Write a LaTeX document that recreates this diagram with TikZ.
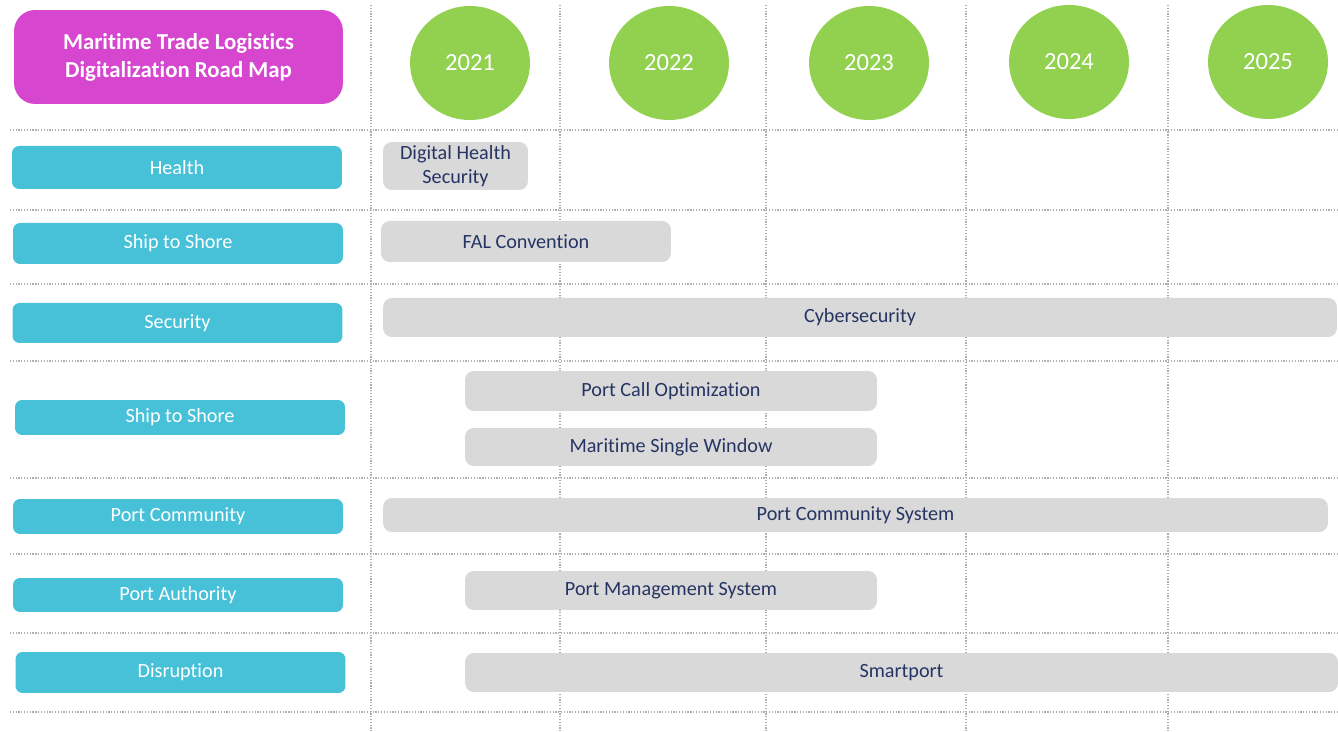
\documentclass[tikz,border=0pt]{standalone}
\usepackage{fontspec}
\setmainfont{Carlito}[Ligatures=CommonOff]
\usetikzlibrary{shapes.geometric}
\definecolor{mapmagenta}{RGB}{214,70,206}
\definecolor{mapcyan}{RGB}{70,193,216}
\definecolor{mapgreen}{RGB}{146,208,80}
\definecolor{mapgray}{RGB}{217,217,217}
\definecolor{mapnavy}{RGB}{38,52,99}
\definecolor{mapgrid}{RGB}{175,175,175}
\tikzset{
  titlebox/.style={fill=mapmagenta, rounded corners=12pt, text=white, font=\bfseries\fontsize{13}{16}\selectfont,
    align=center, minimum width=6.58cm, minimum height=1.88cm, inner sep=0pt},
  yearbubble/.style={ellipse, fill=mapgreen, text=white, font=\fontsize{14}{16}\selectfont,
    minimum width=2.4cm, minimum height=2.28cm, inner sep=0pt},
  rowlabel/.style={fill=mapcyan, rounded corners=4pt, text=white, font=\fontsize{11.5}{13}\selectfont,
    minimum width=6.6cm, minimum height=#1, inner sep=0pt},
  taskbar/.style={fill=mapgray, rounded corners=5pt, text=mapnavy, font=\fontsize{11.5}{13.5}\selectfont,
    align=center, inner sep=0pt},
  gridline/.style={mapgrid, line width=0.6pt, dash pattern=on 0.7pt off 0.9pt}
}
\begin{document}
\begin{tikzpicture}[x=0.02cm,y=-0.02cm]
        \useasboundingbox (0,0) rectangle (1338,732);
        \foreach \gx in {371,560,766,966,1168}
          \draw[gridline] (\gx,5) -- (\gx,732);
        \foreach \gy in {130,210,284,361,478,554,633,712}
          \draw[gridline] (10,\gy) -- (1338,\gy);
        \node[titlebox] at (178.5,57) (title) {Maritime Trade Logistics\\Digitalization Road Map};
        \node[yearbubble] at (470,63)  (y2021) {2021};
        \node[yearbubble] at (669,63)  (y2022) {2022};
        \node[yearbubble] at (869,63)  (y2023) {2023};
        \node[yearbubble] at (1069,62) (y2024) {2024};
        \node[yearbubble] at (1268,62) (y2025) {2025};
        \node[rowlabel=0.86cm] at (177,167.5) (health) {Health};
        \node[rowlabel=0.82cm] at (178,243.5) (shore) {Ship to Shore};
        \node[rowlabel=0.8cm]  at (177.5,323) (security) {Security};
        \node[rowlabel=0.7cm]  at (180,417.5) (shoretwo) {Ship to Shore};
        \node[rowlabel=0.7cm]  at (178,516.5) (community) {Port Community};
        \node[rowlabel=0.68cm] at (178,595)   (authority) {Port Authority};
        \node[rowlabel=0.82cm] at (180.5,672.5) (disruption) {Disruption};
        \node[taskbar, minimum width=2.9cm, minimum height=0.96cm] at (455.5,166) (dhs) {Digital Health\\Security};
        \node[taskbar, minimum width=5.8cm, minimum height=0.82cm] at (526,241.5) (fal) {FAL Convention};
        \node[taskbar, minimum width=19.08cm, minimum height=0.78cm] at (860,317.5) (cyber) {Cybersecurity};
        \node[taskbar, minimum width=8.24cm, minimum height=0.8cm] at (671,391) (pco) {Port Call Optimization};
        \node[taskbar, minimum width=8.24cm, minimum height=0.76cm] at (671,447) (msw) {Maritime Single Window};
        \node[taskbar, minimum width=18.9cm, minimum height=0.68cm] at (855.5,515) (pcs) {Port Community System};
        \node[taskbar, minimum width=8.24cm, minimum height=0.78cm] at (671,590.5) (pms) {Port Management System};
        \node[taskbar, minimum width=17.46cm, minimum height=0.78cm] at (901.5,672.5) (smart) {Smartport};
      \end{tikzpicture}
\end{document}
